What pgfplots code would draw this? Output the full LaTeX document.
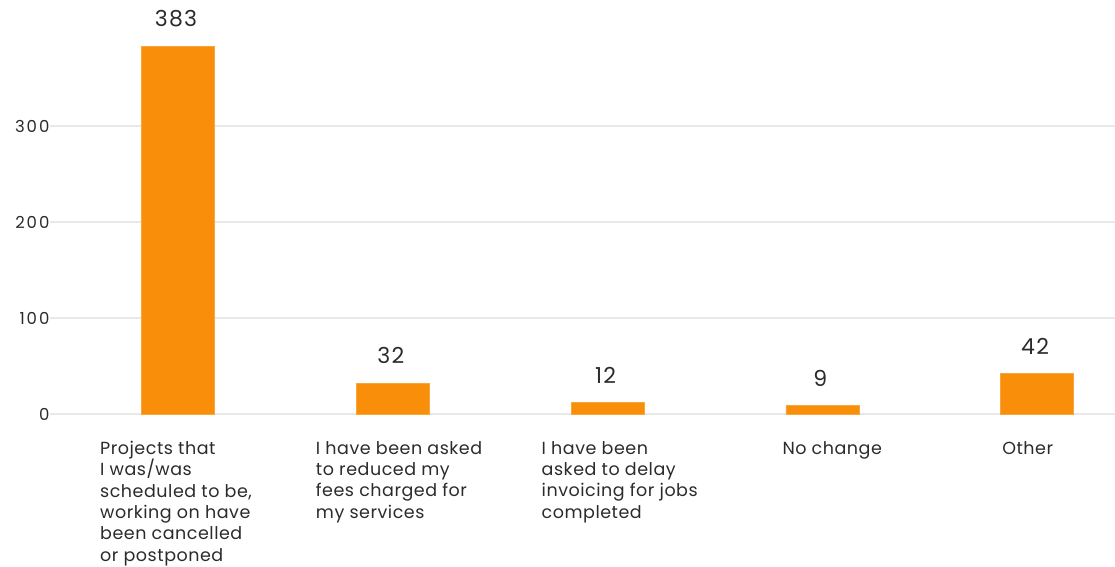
\documentclass[border=0pt]{standalone}
\usepackage{fontspec}
\setmainfont{Poppins}
\newfontfamily\widefont[LetterSpace=6]{Poppins}
\newfontfamily\tickfont[LetterSpace=12]{Poppins}
\newfontfamily\labfont[LetterSpace=3]{Poppins}
\usepackage{pgfplots}
\pgfplotsset{compat=1.18}
\definecolor{barc}{HTML}{F98E0A}
\definecolor{txt}{HTML}{2B2B2B}
\definecolor{gridc}{HTML}{E8E8E8}
\begin{document}
\begin{tikzpicture}
\begin{axis}[
  name=ax,
  scale only axis, width=1065pt, height=384pt,
  xmin=-0.596, xmax=4.363, ymin=0, ymax=400,
  clip=false,
  axis line style={draw=none},
  ytick={0,100,200,300},
  ymajorgrids, grid style={draw=gridc, line width=1.2pt},
  xtick={0,1,2,3,4}, xticklabels={},
  major tick length=0pt,
  yticklabel style={font=\tickfont\fontsize{16.5}{16.5}\selectfont, text=txt, /pgf/number format/assume math mode=true, xshift=3pt},
  nodes near coords={\pgfmathprintnumber[assume math mode=true]{\pgfplotspointmeta}},
  nodes near coords style={font=\widefont\fontsize{22}{22}\selectfont, text=txt, anchor=south, inner sep=0pt, yshift=19pt, xshift=-2pt},
]
\addplot[ybar, bar width=73pt, fill=barc, draw=barc!80!white, line width=0.6pt] coordinates {(0,383) (1,32) (2,12) (3,9) (4,42)};
\begin{scope}[every node/.style={anchor=north west, align=left, inner sep=0pt, font=\labfont\fontsize{17.5}{21.3}\selectfont, text=txt}]
\node[xshift=-78pt, yshift=-27pt] at (axis cs:0,0) {Projects that\\I was/was\\scheduled to be,\\working on have\\been cancelled\\or postponed};
\node[xshift=-77pt, yshift=-27pt] at (axis cs:1,0) {I have been asked\\to reduced my\\fees charged for\\my services};
\node[xshift=-66pt, yshift=-27pt] at (axis cs:2,0) {I have been\\asked to delay\\invoicing for jobs\\completed};
\node[xshift=-40pt, yshift=-27pt] at (axis cs:3,0) {No change};
\node[xshift=-35pt, yshift=-27pt] at (axis cs:4,0) {Other};
\end{scope}
\end{axis}
\pgfresetboundingbox
\path (ax.south west) ++(-50pt,-152pt) rectangle ++(1115pt,566pt);
\end{tikzpicture}
\end{document}
